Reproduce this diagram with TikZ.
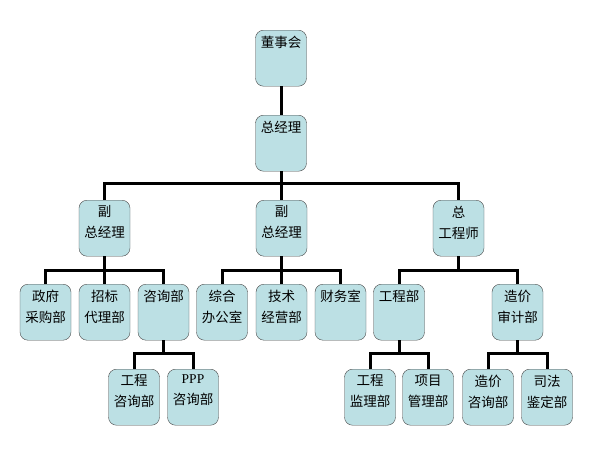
\documentclass[tikz,border=0pt]{standalone}
\usepackage{fontspec}
\setmainfont{Liberation Serif}
\newfontfamily\cjk{Noto Sans CJK SC}
\definecolor{boxfill}{RGB}{188,224,228}
\definecolor{boxline}{RGB}{70,70,70}
\tikzset{
  unit/.style={draw=boxline, fill=boxfill, rounded corners=8pt, minimum width=51pt,
    minimum height=56pt, inner sep=0pt, anchor=north, label={[unittext]north:#1}},
  unittext/.style={anchor=north, align=center, inner sep=0pt, yshift=-5.5pt,
    font=\cjk\fontsize{13.5}{21}\selectfont},
  link/.style={line width=3pt},
}

\begin{document}
\begin{tikzpicture}[x=1pt, y=-1pt]
\useasboundingbox (0,0) rectangle (589,459);

% Top of the chart
\node[unit={董事会}] (board) at (281,30) {};
\node[unit={总经理}] (gm) at (281,115) {};

% Second row
\node[unit={副\\总经理}] (vp1) at (104.5,200) {};
\node[unit={副\\总经理}] (vp2) at (281.5,200) {};
\node[unit={总\\工程师}] (chief) at (458.5,200) {};

% Third row
\node[unit={政府\\采购部}] (gov) at (45.5,284) {};
\node[unit={招标\\代理部}] (bid) at (104.5,284) {};
\node[unit={咨询部}] (cons) at (163.5,284) {};
\node[unit={综合\\办公室}] (office) at (222,284) {};
\node[unit={技术\\经营部}] (tech) at (281.5,284) {};
\node[unit={财务室}] (fin) at (340.5,284) {};
\node[unit={工程部}] (eng) at (399,284) {};
\node[unit={造价\\审计部}] (audit) at (517.5,284) {};

% Bottom row
\node[unit={工程\\咨询部}] (engc) at (134,369) {};
\node[unit={{\rmfamily PPP}\\咨询部}] (ppp) at (193,369) {};
\node[unit={工程\\监理部}] (sup) at (370,369) {};
\node[unit={项目\\管理部}] (proj) at (428,369) {};
\node[unit={造价\\咨询部}] (costc) at (488,369) {};
\node[unit={司法\\鉴定部}] (forens) at (547,369) {};

% Connectors
\draw[link] (board) -- (gm);
\draw[link] (gm.south) -- ++(0,12) -| (vp1.north);
\draw[link] (gm.south) -- ++(0,12) -| (vp2.north);
\draw[link] (gm.south) -- ++(0,12) -| (chief.north);

\draw[link] (vp1.south) -- ++(0,14) -| (gov.north);
\draw[link] (vp1.south) -- ++(0,14) -| (bid.north);
\draw[link] (vp1.south) -- ++(0,14) -| (cons.north);

\draw[link] (vp2.south) -- ++(0,14) -| (office.north);
\draw[link] (vp2.south) -- ++(0,14) -| (tech.north);
\draw[link] (vp2.south) -- ++(0,14) -| (fin.north);

\draw[link] (chief.south) -- ++(0,14) -| (eng.north);
\draw[link] (chief.south) -- ++(0,14) -| (audit.north);

\draw[link] (cons.south) -- ++(0,13) -| (engc.north);
\draw[link] (cons.south) -- ++(0,13) -| (ppp.north);

\draw[link] (eng.south) -- ++(0,13) -| (sup.north);
\draw[link] (eng.south) -- ++(0,13) -| (proj.north);

\draw[link] (audit.south) -- ++(0,13) -| (costc.north);
\draw[link] (audit.south) -- ++(0,13) -| (forens.north);

\end{tikzpicture}
\end{document}
